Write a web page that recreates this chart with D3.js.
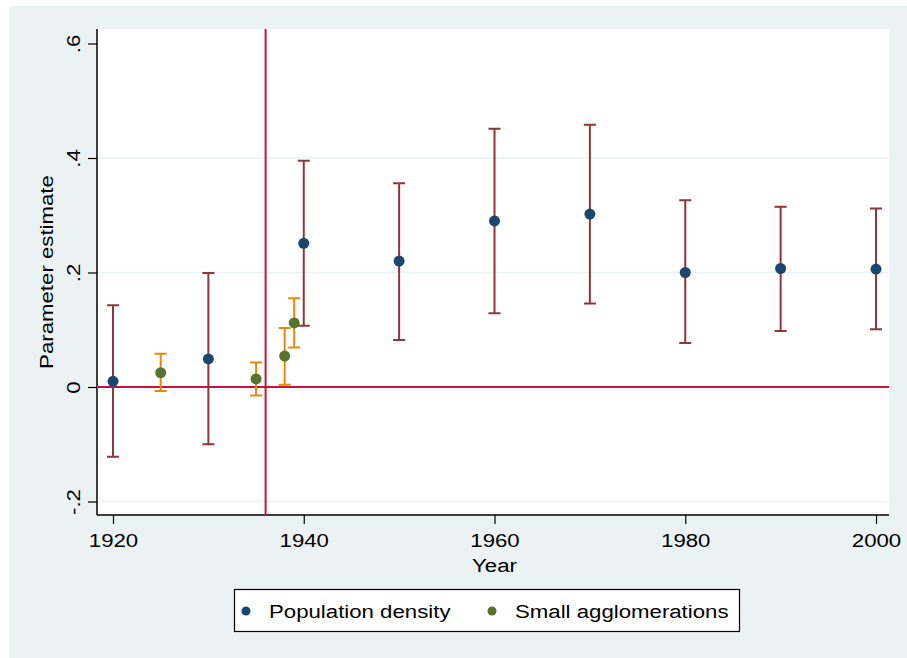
<!DOCTYPE html>
<html>
<head>
  <meta charset="utf-8">
  <style>
    body { margin: 0; background: #fff; }
    text { font-family: "Liberation Sans", Arial, sans-serif; fill: #000; }
  </style>
</head>
<body>
  <script src="https://d3js.org/d3.v7.min.js"></script>
  <script>
    // Population density estimates with confidence intervals
    const densityYears = [1920, 1930, 1940, 1950, 1960, 1970, 1980, 1990, 2000];
    const densityEst   = [0.010, 0.049, 0.251, 0.220, 0.290, 0.302, 0.200, 0.207, 0.206];
    const densityLow   = [-0.122, -0.100, 0.107, 0.082, 0.129, 0.146, 0.077, 0.098, 0.101];
    const densityHigh  = [0.143, 0.199, 0.395, 0.356, 0.451, 0.458, 0.326, 0.315, 0.312];

    // Small agglomerations estimates
    const smallYears = [1925, 1935, 1938, 1939];
    const smallEst   = [0.025, 0.014, 0.054, 0.112];
    const smallLow   = [-0.007, -0.015, 0.004, 0.069];
    const smallHigh  = [0.058, 0.043, 0.103, 0.155];

    const xTicks = [1920, 1940, 1960, 1980, 2000];
    const yTicks = [-0.2, 0, 0.2, 0.4, 0.6];
    const yTickLabels = ['-.2', '0', '.2', '.4', '.6'];
    const gridTicks = [-0.2, 0.2, 0.4];
    const refYear = 1936;

    const width = 907, height = 658;
    const plot = { left: 97, right: 889, top: 29, bottom: 515 };
    const fs = 19, stretch = 'scale(1.17,1)';

    const svg = d3.select('body').append('svg')
      .attr('width', width)
      .attr('height', height);

    // outer background
    svg.append('rect')
      .attr('x', 9).attr('y', 6)
      .attr('width', width - 9).attr('height', height - 6)
      .attr('fill', '#eaf2f3');

    svg.append('rect')
      .attr('x', plot.left).attr('y', plot.top)
      .attr('width', plot.right - plot.left).attr('height', plot.bottom - plot.top)
      .attr('fill', '#fff');

    const x = d3.scaleLinear().domain([1920, 2000]).range([113, 876]);
    const y = d3.scaleLinear().domain([0, 0.6]).range([387, 43.5]);

    // grid lines
    svg.selectAll('.grid')
      .data(gridTicks)
      .enter().append('line')
      .attr('x1', plot.left).attr('x2', plot.right)
      .attr('y1', d => y(d)).attr('y2', d => y(d))
      .attr('stroke', '#eaf2f3')
      .attr('stroke-width', 1.5);

    // y axis
    const yAxis = svg.append('g')
      .attr('transform', 'translate(' + plot.left + ',0)')
      .call(d3.axisLeft(y).tickValues(yTicks).tickSize(9).tickPadding(0)
        .tickFormat((d, i) => yTickLabels[i]));
    yAxis.select('.domain').attr('d', 'M0,' + plot.top + 'V' + plot.bottom).attr('stroke', '#000').attr('stroke-width', 1.5);
    yAxis.selectAll('.tick line').attr('stroke', '#000').attr('stroke-width', 1.2);
    yAxis.selectAll('.tick text')
      .attr('font-size', fs)
      .attr('text-anchor', 'middle')
      .attr('transform', 'translate(-24,0) rotate(-90) ' + stretch)
      .attr('x', 0).attr('dy', '0.35em');

    // x axis
    const xAxis = svg.append('g')
      .attr('transform', 'translate(0,' + plot.bottom + ')')
      .call(d3.axisBottom(x).tickValues(xTicks).tickSize(9).tickPadding(10).tickFormat(d3.format('d')));
    xAxis.select('.domain').attr('d', 'M' + plot.left + ',0H' + plot.right).attr('stroke', '#000').attr('stroke-width', 1.5);
    xAxis.selectAll('.tick line').attr('stroke', '#000').attr('stroke-width', 1.2);
    xAxis.selectAll('.tick text').attr('font-size', fs).attr('transform', stretch);

    // axis titles
    svg.append('text')
      .attr('transform', 'translate(' + x(1960) + ',572) ' + stretch)
      .attr('text-anchor', 'middle')
      .attr('font-size', fs)
      .text('Year');

    svg.append('text')
      .attr('transform', 'translate(53,' + ((plot.top + plot.bottom) / 2) + ') rotate(-90) ' + stretch)
      .attr('text-anchor', 'middle')
      .attr('font-size', fs)
      .text('Parameter estimate');

    // reference lines
    const red = '#c9113d';
    svg.append('line')
      .attr('x1', plot.left).attr('x2', plot.right)
      .attr('y1', y(0)).attr('y2', y(0))
      .attr('stroke', red).attr('stroke-width', 2);
    svg.append('line')
      .attr('x1', x(refYear)).attr('x2', x(refYear))
      .attr('y1', plot.top).attr('y2', plot.bottom)
      .attr('stroke', red).attr('stroke-width', 2);

    function drawSeries(years, est, low, high, ciColor, dotColor) {
      const data = years.map((yr, i) => ({ yr: yr, est: est[i], low: low[i], high: high[i] }));
      const g = svg.append('g');
      const cap = 6;
      g.selectAll('.ci')
        .data(data).enter().append('path')
        .attr('d', d => {
          const cx = x(d.yr), y1 = y(d.low), y2 = y(d.high);
          return 'M' + cx + ',' + y1 + 'V' + y2 +
            'M' + (cx - cap) + ',' + y1 + 'H' + (cx + cap) +
            'M' + (cx - cap) + ',' + y2 + 'H' + (cx + cap);
        })
        .attr('fill', 'none')
        .attr('stroke', ciColor)
        .attr('stroke-width', 2);
      g.selectAll('circle')
        .data(data).enter().append('circle')
        .attr('cx', d => x(d.yr))
        .attr('cy', d => y(d.est))
        .attr('r', 5.5)
        .attr('fill', dotColor);
    }

    drawSeries(densityYears, densityEst, densityLow, densityHigh, '#90353b', '#1a476f');
    drawSeries(smallYears, smallEst, smallLow, smallHigh, '#e8880a', '#55752f');

    // legend
    const legend = svg.append('g');
    legend.append('rect')
      .attr('x', 234.5).attr('y', 589.5)
      .attr('width', 505).attr('height', 42)
      .attr('fill', '#fff')
      .attr('stroke', '#000').attr('stroke-width', 1.2);
    const items = [
      { label: 'Population density', color: '#1a476f', x: 246 },
      { label: 'Small agglomerations', color: '#55752f', x: 492 }
    ];
    items.forEach(function(it) {
      legend.append('circle')
        .attr('cx', it.x).attr('cy', 611)
        .attr('r', 4.5)
        .attr('fill', it.color);
      legend.append('text')
        .attr('transform', 'translate(' + (it.x + 23) + ',611) ' + stretch)
        .attr('dy', '0.35em')
        .attr('font-size', fs)
        .text(it.label);
    });
  </script>
</body>
</html>
